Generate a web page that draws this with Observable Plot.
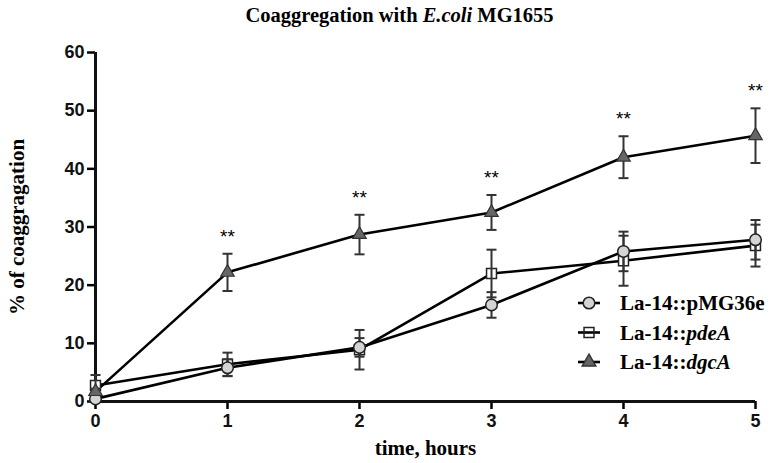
<!DOCTYPE html>
<html>
<head>
<meta charset="utf-8">
<script src="https://cdn.jsdelivr.net/npm/d3@7"></script>
<script src="https://cdn.jsdelivr.net/npm/@observablehq/plot@0.6"></script>
<style>
  html, body { margin: 0; padding: 0; background: #fff; }
  #chart { position: relative; width: 772px; height: 463px; }
</style>
</head>
<body>
<div id="chart"></div>
<script>
// ---- data ----
const times = [0, 1, 2, 3, 4, 5];
const seriesNames = ["La-14::pMG36e", "La-14::pdeA", "La-14::dgcA"];
const pMG36e = [0.45, 5.8, 9.3, 16.6, 25.8, 27.8];
const pMG36eErr = [0.5, 1.45, 1.6, 2.2, 3.4, 3.4];
const pdeA = [2.75, 6.4, 8.9, 22.0, 24.2, 26.8];
const pdeAErr = [1.8, 2.0, 3.4, 4.1, 4.3, 3.6];
const dgcA = [1.7, 22.2, 28.7, 32.5, 42.0, 45.7];
const dgcAErr = [0.5, 3.2, 3.4, 3.0, 3.6, 4.7];
const starTimes = [1, 2, 3, 4, 5];
const starLabel = "**";
const xTicks = [0, 1, 2, 3, 4, 5];
const yTicks = [0, 10, 20, 30, 40, 50, 60];
const titleText = "Coaggregation with E.coli MG1655";
const xLabel = "time, hours";
const yLabel = "% of coaggragation";

// ---- table ----
const values = [pMG36e, pdeA, dgcA];
const errs = [pMG36eErr, pdeAErr, dgcAErr];
const data = [];
seriesNames.forEach((s, i) => {
  times.forEach((t, j) => data.push({series: s, t, v: values[i][j], e: errs[i][j]}));
});
const byS = s => data.filter(d => d.series === s);
const stars = data.filter(d => d.series === seriesNames[2] && starTimes.includes(d.t));

const cap = {draw(ctx) { ctx.moveTo(-5, 0); ctx.lineTo(5, 0); }};
const serif = "Liberation Serif, Times New Roman, serif";
const sans = "Liberation Sans, Arial, sans-serif";
const errColor = "#333";

const plot = Plot.plot({
  width: 772,
  height: 463,
  marginLeft: 95,
  marginRight: 17,
  marginTop: 52,
  marginBottom: 62,
  style: {fontFamily: sans, background: "#fff", overflow: "visible"},
  x: {domain: [0, 5]},
  y: {domain: [0, 60]},
  marks: [
    Plot.axisX({ticks: xTicks, tickFormat: "d", tickSize: 8, tickPadding: 5, strokeWidth: 2.5, fontSize: 18, fontWeight: "bold", fill: "#111", label: null}),
    Plot.axisY({ticks: yTicks, tickFormat: "d", tickSize: 8, tickPadding: 3, strokeWidth: 2.5, fontSize: 18, fontWeight: "bold", fill: "#111", label: null}),
    Plot.ruleY([0], {stroke: "#111", strokeWidth: 3}),
    Plot.ruleX([0], {stroke: "#111", strokeWidth: 3}),
    Plot.line(data, {x: "t", y: "v", z: "series", stroke: "#000", strokeWidth: 2.6}),
    Plot.dot(byS(seriesNames[1]), {x: "t", y: "v", symbol: "square", r: 5.6, fill: "#fff", stroke: "#222", strokeWidth: 1.5}),
    Plot.ruleX(data, {x: "t", y1: d => d.v - d.e, y2: d => d.v + d.e, stroke: errColor, strokeWidth: 2}),
    Plot.dot(data, {x: "t", y: d => d.v + d.e, symbol: cap, stroke: errColor, strokeWidth: 2, fill: "none"}),
    Plot.dot(data, {x: "t", y: d => d.v - d.e, symbol: cap, stroke: errColor, strokeWidth: 2, fill: "none"}),
    Plot.dot(byS(seriesNames[0]), {x: "t", y: "v", symbol: "circle", r: 5.8, fill: "#d4d4d4", stroke: "#222", strokeWidth: 1.5}),
    Plot.dot(byS(seriesNames[2]), {x: "t", y: "v", symbol: "triangle", r: 5, fill: "#666", stroke: "#333", strokeWidth: 1.2}),
    Plot.text(stars, {x: "t", y: d => d.v + d.e, text: () => starLabel, lineAnchor: "bottom", dy: -11, fontSize: 19, fill: "#000", fontFamily: sans}),
    Plot.text([xLabel], {frameAnchor: "bottom", dy: 47, lineAnchor: "middle", fontSize: 21, fontWeight: "bold", fontFamily: serif, fill: "#000"}),
    Plot.text([yLabel], {frameAnchor: "left", textAnchor: "middle", dx: -78, rotate: -90, lineAnchor: "middle", fontSize: 21, fontWeight: "bold", fontFamily: serif, fill: "#000"}),
    Plot.text([titleText], {frameAnchor: "top", dx: -26, dy: -31, lineAnchor: "bottom", fontSize: 20.5, fontWeight: "bold", fontFamily: serif, fill: "#000"})
  ]
});

document.getElementById("chart").appendChild(plot);
const svg = d3.select(plot);

// rich title with italic E.coli
svg.selectAll("text").filter(function() { return this.textContent === titleText; }).each(function() {
  const t = d3.select(this);
  t.text(null);
  const parts = titleText.split("E.coli");
  t.append("tspan").text(parts[0]);
  t.append("tspan").attr("font-style", "italic").text("E.coli");
  t.append("tspan").text(parts[1]);
});

// legend
const legend = svg.append("g").attr("font-family", serif).attr("font-size", 21).attr("font-weight", "bold").attr("text-anchor", "start");
const symbols = [
  {type: d3.symbolCircle, size: Math.PI * 5.8 * 5.8, fill: "#d4d4d4", stroke: "#222"},
  {type: d3.symbolSquare, size: Math.PI * 5.6 * 5.6, fill: "none", stroke: "#222"},
  {type: d3.symbolTriangle, size: Math.PI * 25, fill: "#666", stroke: "#333"}
];
const legendParts = [["La-14::", "pMG36e", false], ["La-14::", "pdeA", true], ["La-14::", "dgcA", true]];
seriesNames.forEach((s, i) => {
  const g = legend.append("g").attr("transform", `translate(589,${303 + i * 29.5})`);
  g.append("line").attr("x1", -11).attr("x2", 11).attr("stroke", "#000").attr("stroke-width", 2.6);
  g.append("path").attr("d", d3.symbol(symbols[i].type, symbols[i].size)()).attr("fill", symbols[i].fill).attr("stroke", symbols[i].stroke).attr("stroke-width", 1.5);
  const tx = g.append("text").attr("x", 31).attr("dy", "0.35em").attr("fill", "#000").attr("text-anchor", "start");
  tx.append("tspan").text(legendParts[i][0]);
  tx.append("tspan").attr("font-style", legendParts[i][2] ? "italic" : "normal").text(legendParts[i][1]);
});
</script>
</body>
</html>
